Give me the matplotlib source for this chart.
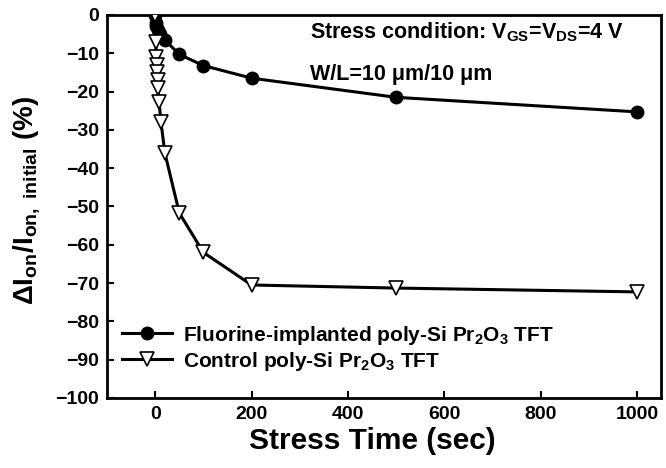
import matplotlib
matplotlib.use("Agg")
import matplotlib.pyplot as plt

plt.rcParams['font.family'] = ['Liberation Sans', 'DejaVu Sans']
plt.rcParams['font.weight'] = 'bold'
plt.rcParams['mathtext.fontset'] = 'custom'
plt.rcParams['mathtext.rm'] = 'Liberation Sans:bold'
plt.rcParams['mathtext.it'] = 'Liberation Sans:bold'
plt.rcParams['mathtext.bf'] = 'Liberation Sans:bold'
plt.rcParams['mathtext.default'] = 'rm'

# Data
fl_time = [0, 1, 2, 5, 10, 20, 50, 100, 200, 500, 1000]
fl_vals = [0, -2, -3, -4, -5, -6.5, -10.3, -13.2, -16.5, -21.5, -25.3]
ct_time = [0, 1, 2, 3, 4, 5, 6, 8, 12, 20, 50, 100, 200, 500, 1000]
ct_vals = [0, -7, -11, -13, -15, -17, -19, -22.7, -28, -36, -51.7, -62, -70.5, -71.3, -72.3]
fl_label = 'Fluorine-implanted poly-Si Pr$_2$O$_3$ TFT'
ct_label = 'Control poly-Si Pr$_2$O$_3$ TFT'
x_ticks = [0, 200, 400, 600, 800, 1000]
y_ticks = list(range(-100, 1, 10))

fig = plt.figure(figsize=(6.66, 4.68), dpi=100)
ax = fig.add_axes([0.1607, 0.1496, 0.832, 0.8184])

ax.plot(fl_time, fl_vals, '-o', color='black', lw=2.2, markersize=9,
        markerfacecolor='black', markeredgecolor='black', label=fl_label, zorder=3)
ax.plot(ct_time, ct_vals, '-v', color='black', lw=2.2, markersize=10,
        markerfacecolor='white', markeredgecolor='black', markeredgewidth=1.2,
        label=ct_label, zorder=3)

ax.set_xlim(-100, 1050)
ax.set_ylim(-100, 0)
ax.set_xticks(x_ticks)
ax.set_yticks(y_ticks)
ax.tick_params(direction='in', length=5, width=1.5, labelsize=14, pad=6,
               top=False, right=False)
for lab in ax.get_xticklabels() + ax.get_yticklabels():
    lab.set_fontweight('bold')
for s in ax.spines.values():
    s.set_linewidth(2)

ax.set_xlabel('Stress Time (sec)', fontsize=21.5, fontweight='bold', va='top')
ax.xaxis.set_label_coords(0.479, -0.075)
ax.set_ylabel(r'$\Delta$I$_{on}$/I$_{on,\ initial}$ (%)', fontsize=20, fontweight='bold')
ax.yaxis.set_label_coords(-0.118, 0.515)

ax.text(0.366, 0.955, 'Stress condition: V$_{GS}$=V$_{DS}$=4 V', transform=ax.transAxes,
        fontsize=15.5, ha='left', va='center')
ax.text(0.366, 0.845, 'W/L=10 \u03bcm/10 \u03bcm', transform=ax.transAxes,
        fontsize=15.5, ha='left', va='center')

leg = ax.legend(loc='center left', bbox_to_anchor=(0.0, 0.13), frameon=False,
                prop={'size': 15, 'weight': 'bold'}, handlelength=2.4,
                handletextpad=0.55, labelspacing=0.15, borderpad=0.4,
                borderaxespad=0.3)

fig.savefig('out.png', dpi=100)
